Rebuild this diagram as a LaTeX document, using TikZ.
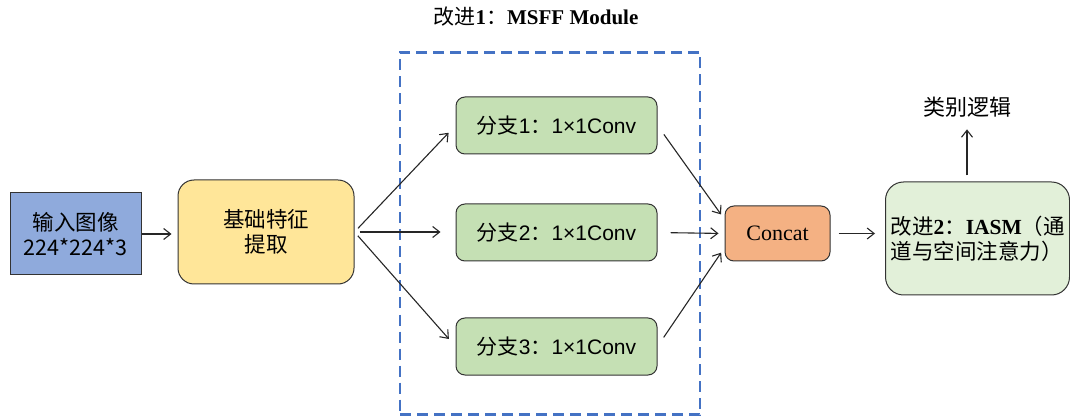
\documentclass[tikz,border=0pt]{standalone}
\usepackage{fontspec}
\setmainfont{Liberation Serif}
\newfontfamily\cjk{Noto Sans CJK SC}
\newfontfamily\arial{Liberation Sans}
\usetikzlibrary{arrows.meta}
\definecolor{inblue}{HTML}{8FAADC}
\definecolor{featyel}{HTML}{FFE699}
\definecolor{brgreen}{HTML}{C5E0B4}
\definecolor{catorange}{HTML}{F4B183}
\definecolor{iasmgreen}{HTML}{E2F0D9}
\definecolor{dashblue}{HTML}{4472C4}
\definecolor{edge}{HTML}{333333}
\begin{document}
\begin{tikzpicture}[x=1pt,y=-1pt,
  box/.style={draw=edge, line width=1pt, align=center, inner sep=0pt,
    font=\fontsize{21.5}{25}\selectfont},
  rbox/.style={box, rounded corners=9pt},
  brbox/.style={rbox, fill=brgreen, minimum width=201pt, minimum height=57pt, font=\fontsize{21}{25}\selectfont},
  arr/.style={-{Straight Barb[length=7pt,width=11pt]}, line width=1.1pt, draw=black!85},
  lbl/.style={inner sep=0pt, font=\fontsize{22}{26}\selectfont}]
\useasboundingbox (0,0) rectangle (1070,419);

% dashed module frame
\node[draw=dashblue, line width=2.3pt, dash pattern=on 11pt off 6pt,
  minimum width=300pt, minimum height=362pt, inner sep=0pt] (msff) at (550,233.5) {};
\node[lbl, font=\fontsize{21}{24}\selectfont] (title) at (536,17)
  {{\cjk 改进}\textbf{1}{\cjk ：}\textbf{MSFF Module}};

% nodes
\node[box, fill=inblue, minimum width=131pt, minimum height=82pt] (input) at (75.5,234)
  {\cjk 输入图像\\\cjk 224*224*3};
\node[box, fill=featyel, rounded corners=16pt, minimum width=176pt, minimum height=104pt] (feat) at (266,232)
  {\cjk 基础特征\\\cjk 提取};
\node[brbox] (b1) at (556.5,125.5) {{\cjk 分支}{\arial 1}{\cjk ：}{\arial 1×1Conv}};
\node[brbox] (b2) at (556.5,232.5) {{\cjk 分支}{\arial 2}{\cjk ：}{\arial 1×1Conv}};
\node[brbox] (b3) at (556.5,346.5) {{\cjk 分支}{\arial 3}{\cjk ：}{\arial 1×1Conv}};
\node[rbox, fill=catorange, minimum width=105pt, minimum height=55pt, font=\fontsize{22}{25}\selectfont] (concat) at (777.5,233.5)
  {Concat};
\node[box, fill=iasmgreen, rounded corners=18pt, minimum width=183pt, minimum height=113pt,
  text width=174pt, inner xsep=5pt, align=left, font=\fontsize{21.5}{25}\selectfont] (iasm) at (977.5,238.5)
  {{\cjk 改进}\textbf{2}{\cjk ：}\textbf{IASM}{\cjk （通}\\{\cjk 道与空间注意力）}};
\node[lbl] (out) at (967,107) {\cjk 类别逻辑};

% connectors
\draw[arr, shorten >=6pt] (input.east) -- (input.east -| feat.west);
\draw[arr, shorten <=5pt, shorten >=10pt] (feat.east) -- (b1.west);
\draw[arr, shorten <=5pt, shorten >=15pt] (feat.east) -- (feat.east -| b2.west);
\draw[arr, shorten <=5pt, shorten >=10pt] (feat.east) -- (b3.west);
\draw[arr, shorten <=11pt, shorten >=6pt] (b1.east) -- (concat.165);
\draw[arr, shorten <=13pt, shorten >=6pt] (b2.east) -- (concat.west);
\draw[arr, shorten <=11pt, shorten >=6pt] (b3.east) -- (concat.195);
\draw[arr, shorten <=8pt, shorten >=10pt] (concat.east) -- (iasm.west |- concat.east);
\draw[arr, shorten <=6pt, shorten >=12pt] (iasm.north -| out.south) -- (out.south);
\end{tikzpicture}
\end{document}
